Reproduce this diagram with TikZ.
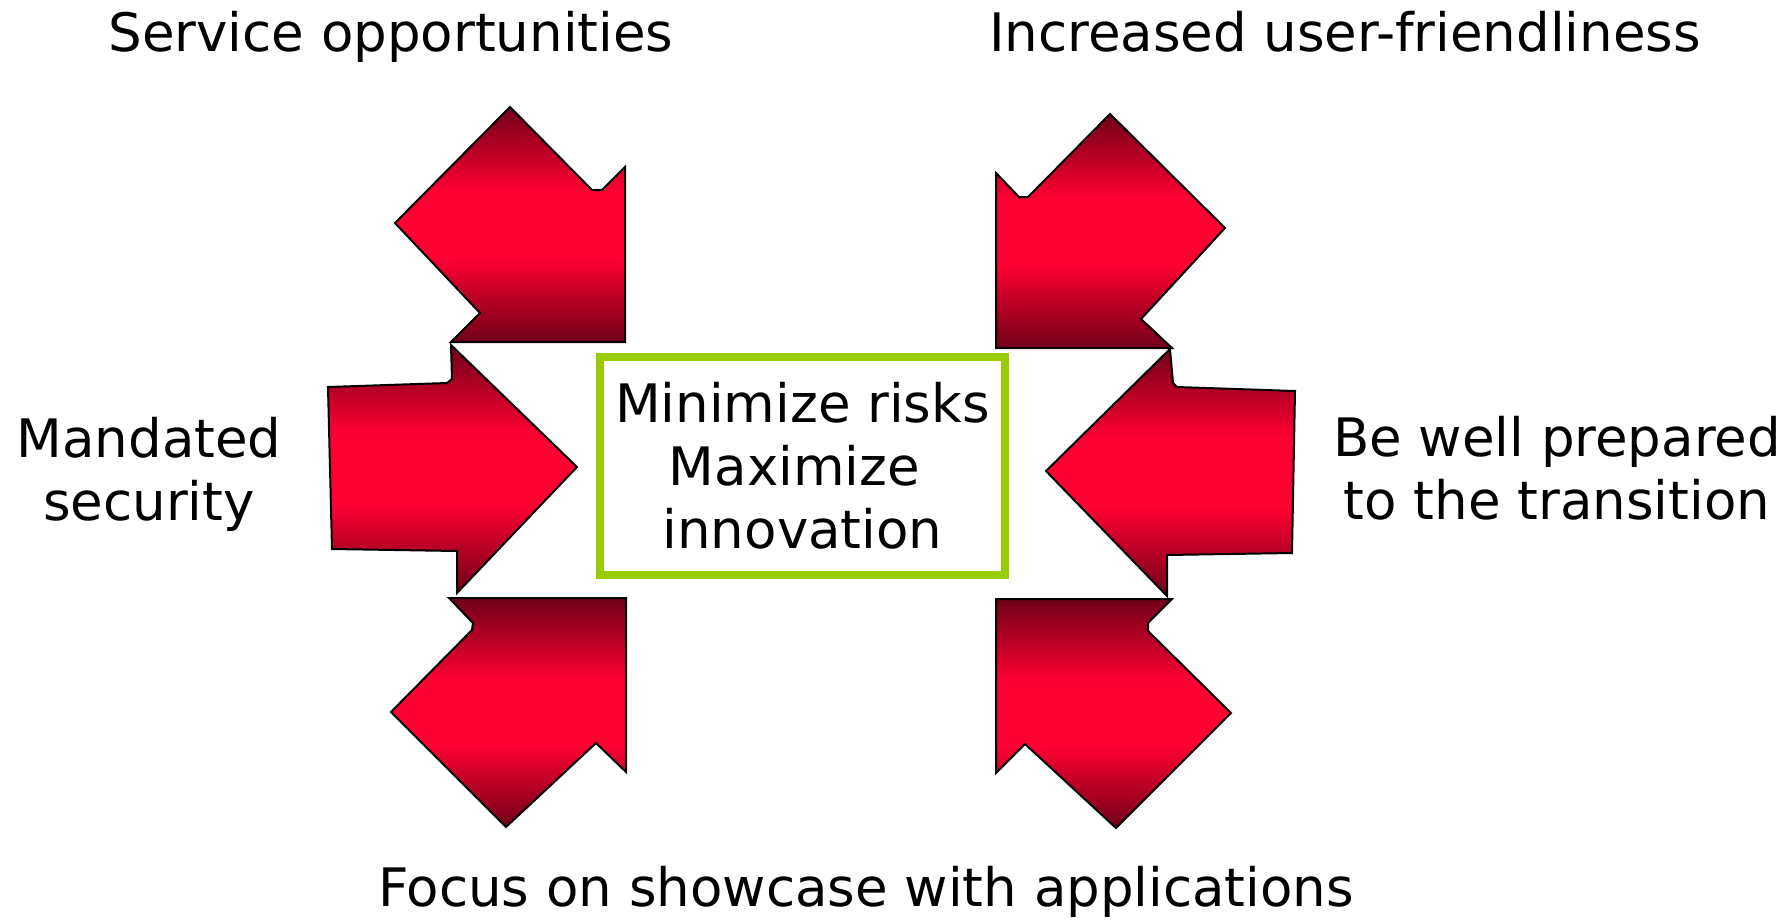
\documentclass[tikz,border=0pt]{standalone}
\usepackage{fontspec}
\setmainfont{DejaVu Sans}
\usepackage{tikz}

\definecolor{rougefonce}{RGB}{112,0,24}
\definecolor{rougevif}{RGB}{255,0,51}
\definecolor{vertcadre}{RGB}{153,204,0}
\pgfdeclareverticalshading{degrade}{100bp}{color(0bp)=(rougefonce); color(25bp)=(rougefonce); color(43bp)=(rougevif); color(57bp)=(rougevif); color(75bp)=(rougefonce); color(100bp)=(rougefonce)}

\begin{document}
\begin{tikzpicture}[x=0.5pt,y=0.5pt]
      \tikzstyle{fleche}=[draw=black, line width=1pt, shading=degrade]
      \tikzstyle{texte}=[font=\fontsize{26.5}{31.5}\selectfont, align=center, inner sep=0pt]
      \tikzstyle{cadre}=[draw=vertcadre, line width=4pt, minimum width=202.5pt, minimum height=109pt]

      \useasboundingbox (0,0) rectangle (1790,-922);

      % fleches de gauche
      \draw[fleche] (510,-107) -- (592,-190) -- (602,-190) -- (625,-167) -- (625,-342) -- (451,-342) -- (480,-313) -- (395,-223) -- cycle;
      \draw[fleche] (451,-345) -- (577,-467) -- (457,-593) -- (457,-551) -- (332,-549) -- (328,-387) -- (447,-383) -- (452,-379) -- cycle;
      \draw[fleche] (449,-598) -- (626,-598) -- (626,-772) -- (596,-743) -- (506,-827) -- (391,-712) -- (472,-630) -- (473,-623) -- cycle;
      % fleches de droite
      \draw[fleche] (1110,-114) -- (1225,-228) -- (1141,-319) -- (1172,-348) -- (996,-348) -- (996,-173) -- (1019,-197) -- (1028,-197) -- cycle;
      \draw[fleche] (1170,-349) -- (1173,-383) -- (1177,-387) -- (1295,-391) -- (1292,-553) -- (1167,-555) -- (1167,-596) -- (1046,-471) -- cycle;
      \draw[fleche] (996,-599) -- (1172,-599) -- (1148,-623) -- (1148,-631) -- (1231,-713) -- (1116,-828) -- (1025,-744) -- (996,-773) -- cycle;

      \node[cadre, texte] (centre) at (802.5,-466) {Minimize risks\\Maximize\rule{8pt}{0pt}\\innovation};
      \node[texte, anchor=base] (service) at (391,-51) {Service opportunities};
      \node[texte, anchor=base] (convivial) at (1345,-51) {Increased user-friendliness};
      \node[texte] (securite) at (149,-474) {Mandated\\security};
      \node[texte] (transition) at (1557,-468) {Be well prepared\\to the transition};
      \node[texte, anchor=base] (vitrine) at (866,-906) {Focus on showcase with applications};

    \end{tikzpicture}
\end{document}
